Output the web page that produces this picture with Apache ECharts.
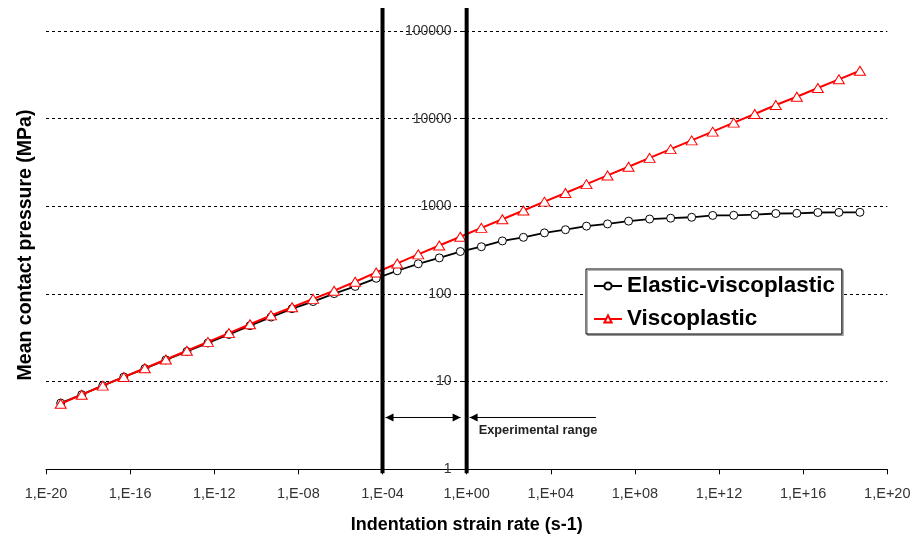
<!DOCTYPE html>
<html><head><meta charset="utf-8">
<script src="https://cdn.jsdelivr.net/npm/echarts@6/dist/echarts.min.js"></script>
<style>html,body{margin:0;padding:0;background:#fff}#c{width:915px;height:543px}</style>
</head><body><div id="c"></div>
<script>
// ---- data ----
const strainRates = [5e-20, 5e-19, 5e-18, 5e-17, 5e-16, 5e-15, 5e-14, 5e-13, 5e-12, 5e-11,
  5e-10, 5e-9, 5e-8, 5e-7, 5e-6, 5e-5, 5e-4, 5e-3, 5e-2, 5e-1,
  5e0, 5e1, 5e2, 5e3, 5e4, 5e5, 5e6, 5e7, 5e8, 5e9,
  5e10, 5e11, 5e12, 5e13, 5e14, 5e15, 5e16, 5e17, 5e18];
const elasticViscoplastic = [5.7, 7.1, 9.0, 11.3, 14.1, 17.7, 22.1, 27.6, 34.5, 43.5,
  54.5, 68, 82, 101, 122, 151, 184, 221, 258, 305,
  346, 403, 443, 498, 541, 594, 630, 678, 716, 732,
  750, 787, 790, 802, 828, 832, 850, 852, 855];
const viscoplastic = [5.6, 7.1, 9.0, 11.3, 14.2, 17.9, 22.5, 28.4, 35.8, 45.2,
  57, 70.5, 88, 109, 138, 176, 223, 283, 357, 450,
  568, 712, 895, 1130, 1420, 1790, 2250, 2830, 3570, 4490,
  5650, 7110, 9000, 11300, 14300, 17800, 22400, 28100, 35200];
const seriesNames = ['Elastic-viscoplastic', 'Viscoplastic'];
const xTickExponents = [-20, -16, -12, -8, -4, 0, 4, 8, 12, 16, 20];
const yTickValues = [1, 10, 100, 1000, 10000, 100000];
const experimentalRange = [1e-4, 1];
const arrowLevel = 3.9;
const arrowTailRate = 1.4e6;
const xTitle = 'Indentation strain rate (s-1)';
const yTitle = 'Mean contact pressure (MPa)';
const annotationText = 'Experimental range';

// ---- layout ----
const W = 915, H = 543;
const gridLeft = 46, gridRight = 27.7, gridTop = 31, gridBottom = 73.7;
const gridWidth = W - gridLeft - gridRight;
const xMinExp = xTickExponents[0], xMaxExp = xTickExponents[xTickExponents.length - 1];
const yAxisOffset = -gridWidth * (0 - xMinExp) / (xMaxExp - xMinExp);
const FONT = 'Liberation Sans, Arial, sans-serif';

const xTickValues = xTickExponents.map(e => Math.pow(10, e));
function fmtX(v) {
  const e = Math.round(Math.log10(v));
  const a = Math.abs(e);
  return '1,E' + (e < 0 ? '-' : '+') + (a < 10 ? '0' + a : '' + a);
}

const chart = echarts.init(document.getElementById('c'), null, {renderer: 'canvas'});
const option = {
  animation: false,
  backgroundColor: '#fff',
  grid: {left: gridLeft, right: gridRight, top: gridTop, bottom: gridBottom},
  legend: {
    orient: 'vertical', left: 586, top: 269,
    padding: [6, 7, 4, 7], itemGap: 11,
    itemWidth: 28, itemHeight: 9,
    backgroundColor: '#fff', borderColor: '#000', borderWidth: 1,
    shadowColor: 'rgba(0,0,0,0.3)', shadowOffsetX: 1.5, shadowOffsetY: 1.5, shadowBlur: 0,
    textStyle: {fontFamily: FONT, fontSize: 22.4, fontWeight: 'bold', color: '#000'},
    data: seriesNames
  },
  xAxis: {
    type: 'log', logBase: 10,
    min: xTickValues[0], max: xTickValues[xTickValues.length - 1],
    name: xTitle, nameLocation: 'middle', nameGap: 47,
    nameTextStyle: {fontFamily: FONT, fontSize: 18, fontWeight: 'bold', color: '#000'},
    axisLine: {show: true, onZero: false, lineStyle: {color: '#000', width: 1}},
    axisTick: {show: true, length: 5, inside: false, customValues: xTickValues, lineStyle: {color: '#000'}},
    axisLabel: {show: true, customValues: xTickValues, margin: 17, formatter: fmtX,
      fontFamily: FONT, fontSize: 14.5, color: '#333'},
    splitLine: {show: false}, minorTick: {show: false}
  },
  yAxis: {
    type: 'log', logBase: 10,
    min: yTickValues[0], max: yTickValues[yTickValues.length - 1],
    position: 'left', offset: yAxisOffset,
    axisLine: {show: true, onZero: false, lineStyle: {color: '#000', width: 1}},
    axisTick: {show: true, length: 5, lineStyle: {color: '#000'}},
    axisLabel: {show: true, margin: 15, formatter: v => String(Math.round(v)),
      fontFamily: FONT, fontSize: 14, color: '#333'},
    splitLine: {show: true, lineStyle: {color: '#000', width: 1, type: [3, 3]}},
    minorTick: {show: false}
  },
  series: [
    {
      name: seriesNames[0], type: 'line',
      data: strainRates.map((x, i) => [x, elasticViscoplastic[i]]),
      symbol: 'circle', symbolSize: 8, showAllSymbol: true,
      itemStyle: {color: '#fff', borderColor: '#000', borderWidth: 1},
      lineStyle: {color: '#000', width: 1.8},
      z: 3
    },
    {
      name: seriesNames[1], type: 'line',
      data: strainRates.map((x, i) => [x, viscoplastic[i]]),
      symbol: 'triangle', symbolSize: [11, 9], showAllSymbol: true,
      itemStyle: {color: '#fff', borderColor: '#ff0000', borderWidth: 1},
      lineStyle: {color: '#ff0000', width: 2},
      z: 4
    }
  ]
};
chart.setOption(option);

// ---- annotations placed through the chart's own coordinate conversion ----
function px(x, y) { return chart.convertToPixel({gridIndex: 0}, [x, y]); }
const pA = px(experimentalRange[0], arrowLevel);
const pB = px(experimentalRange[1], arrowLevel);
const pT = px(arrowTailRate, arrowLevel);
const yBottom = px(1, 1)[1];
const xa = pA[0], xb = pB[0], ay = pA[1];
const topY = 8;
function head(tipX, dir) { // dir = -1 points left, +1 points right
  return {type: 'polygon', shape: {points: [[tipX, ay], [tipX - dir * 8, ay - 4], [tipX - dir * 8, ay + 4]]},
    style: {fill: '#000'}, z: 100};
}
const graphics = [
  {type: 'line', shape: {x1: xa, y1: topY, x2: xa, y2: yBottom + 4}, style: {stroke: '#000', lineWidth: 4}, z: 100},
  {type: 'line', shape: {x1: xb, y1: topY, x2: xb, y2: yBottom + 4}, style: {stroke: '#000', lineWidth: 4}, z: 100},
  {type: 'line', shape: {x1: xa + 3, y1: ay, x2: xb - 6, y2: ay}, style: {stroke: '#000', lineWidth: 1}, z: 100},
  head(xa + 3, -1), head(xb - 6, 1),
  {type: 'line', shape: {x1: xb + 3, y1: ay, x2: pT[0], y2: ay}, style: {stroke: '#000', lineWidth: 1}, z: 100},
  head(xb + 3, -1),
  {type: 'text', x: xb + 12, y: ay + 13, style: {text: annotationText, fontFamily: FONT, fontSize: 12.8,
    fontWeight: 'bold', fill: '#222', textAlign: 'left', textVerticalAlign: 'middle'}, z: 100},
  {type: 'text', x: 26, y: 245, rotation: Math.PI / 2, style: {text: yTitle, fontFamily: FONT, fontSize: 19.5,
    fontWeight: 'bold', fill: '#000', textAlign: 'center', textVerticalAlign: 'middle'}, z: 100}
];
chart.setOption({graphic: graphics});
</script>
</body></html>
